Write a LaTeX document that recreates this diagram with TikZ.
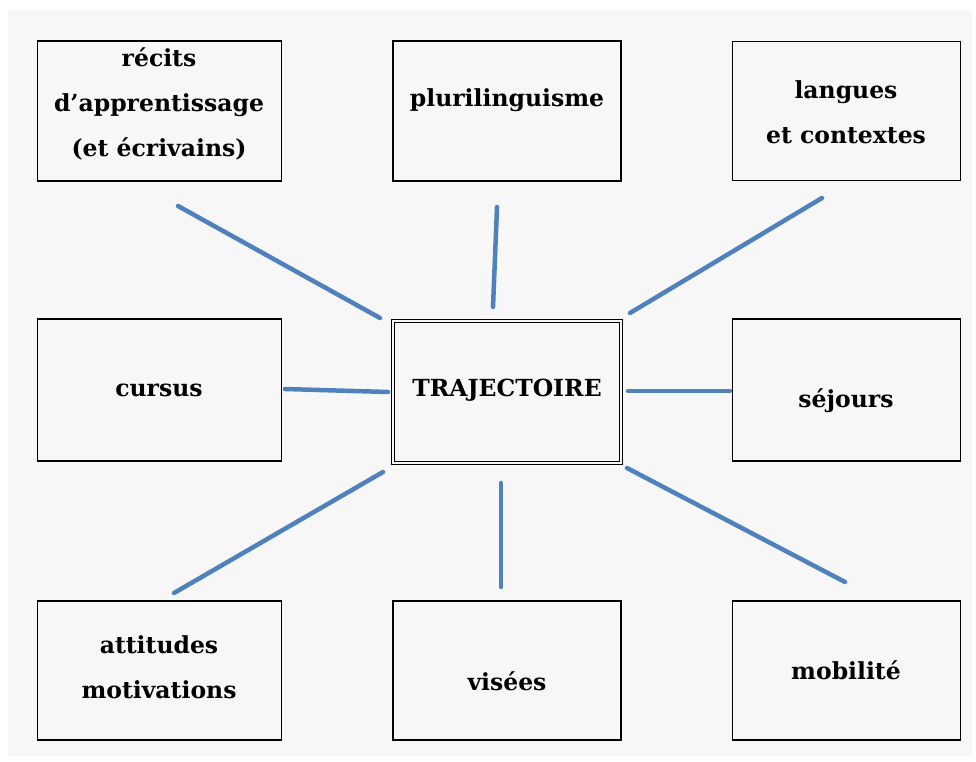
\documentclass[tikz,border=0pt]{standalone}
\usepackage{fontspec}
\setmainfont{DejaVu Serif}
\begin{document}
\begin{tikzpicture}[x=1pt,y=-1pt,
  boxnode/.style={draw=black,line width=1.2pt,fill=white!97!black,minimum width=#1,inner sep=0pt},
  boxnode/.default=244pt,
  lbl/.style={font=\fontsize{23.5}{45}\selectfont\bfseries,align=center,inner sep=0pt},
  link/.style={draw=linkblue,line width=4.5pt,line cap=round}]
\definecolor{linkblue}{HTML}{4F81BD}
\useasboundingbox (0,0) rectangle (976,762);
\fill[white] (0,0) rectangle (976,762);
\fill[white!97!black] (8,10) rectangle (972,756);
% boxes
\node[boxnode=244pt,minimum height=140pt] (tl) at (159.5,111) {};
\node[boxnode=228pt,minimum height=140pt] (tm) at (507,111) {};
\node[boxnode=228pt,minimum height=139pt] (tr) at (846.5,111) {};
\node[boxnode=244pt,minimum height=142pt] (ml) at (159.5,390) {};
\node[boxnode=228pt,minimum height=142pt] (mr) at (846.5,390) {};
\node[boxnode=244pt,minimum height=139pt] (bl) at (159.5,670.5) {};
\node[boxnode=228pt,minimum height=139pt] (bm) at (507,670.5) {};
\node[boxnode=228pt,minimum height=139pt] (br) at (846.5,670.5) {};
\node[draw=black,line width=1.1pt,double=white!97!black,double distance=2.4pt,fill=white!97!black,
      minimum width=228pt,minimum height=142pt,inner sep=0pt] (c) at (507,392) {};
% labels
\node[lbl] (tlt) at (159,104) {récits\\d’apprentissage\\(et écrivains)};
\node[lbl] (tmt) at (507,100) {plurilinguisme};
\node[lbl] (trt) at (846,112) {langues\\et contextes};
\node[lbl] (mlt) at (159,390) {cursus};
\node[lbl] (ct) at (507,390) {TRAJECTOIRE};
\node[lbl] (mrt) at (846,401) {séjours};
\node[lbl] (blt) at (159,667) {attitudes\\motivations};
\node[lbl] (bmt) at (507,681) {visées};
\node[lbl] (brt) at (846,670) {mobilité};
% connector ends
\coordinate (a1) at (178,206); \coordinate (a2) at (380,318);
\coordinate (b1) at (497,207); \coordinate (b2) at (493,307);
\coordinate (d1) at (822,198); \coordinate (d2) at (630,313);
\coordinate (e1) at (285,389); \coordinate (e2) at (388,392);
\coordinate (f1) at (628,391); \coordinate (f2) at (730,391);
\coordinate (g1) at (383,472); \coordinate (g2) at (174,593);
\coordinate (h1) at (501,483); \coordinate (h2) at (501,587);
\coordinate (k1) at (627,468); \coordinate (k2) at (845,582);
\draw[link] (a1) -- (a2);
\draw[link] (b1) -- (b2);
\draw[link] (d1) -- (d2);
\draw[link] (e1) -- (e2);
\draw[link] (f1) -- (f2);
\draw[link] (g1) -- (g2);
\draw[link] (h1) -- (h2);
\draw[link] (k1) -- (k2);
\end{tikzpicture}
\end{document}
